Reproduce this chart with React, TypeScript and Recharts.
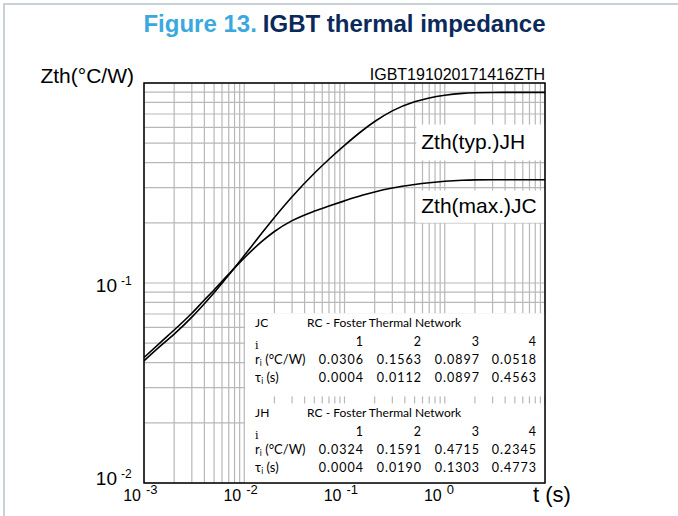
import React from 'react';
import { LineChart, Line, XAxis, YAxis, CartesianGrid, ReferenceArea } from 'recharts';

// time points (s)
const times = [0.001, 0.0015, 0.002, 0.003, 0.004, 0.005, 0.007, 0.01, 0.015, 0.02, 0.03, 0.05, 0.07, 0.1, 0.15, 0.2, 0.3, 0.5, 0.7, 1, 1.5, 2, 3, 5, 10];
// Zth(max.)JC (°C/W)
const zthJC = [0.0424, 0.0511, 0.0582, 0.0706, 0.0822, 0.0923, 0.1108, 0.1335, 0.1614, 0.1809, 0.205, 0.2288, 0.2426, 0.2574, 0.2743, 0.2853, 0.2984, 0.3107, 0.3172, 0.3226, 0.3265, 0.3278, 0.3283, 0.3284, 0.3284];
// Zth(typ.)JH (°C/W)
const zthJH = [0.0408, 0.049, 0.0555, 0.0675, 0.0788, 0.0894, 0.1095, 0.1372, 0.1778, 0.2127, 0.2699, 0.3537, 0.4155, 0.4876, 0.5771, 0.6417, 0.7253, 0.805, 0.8412, 0.8682, 0.8874, 0.8939, 0.8971, 0.8975, 0.8975];

// grid ticks
const xTicks = [0.001, 0.002, 0.003, 0.004, 0.005, 0.006, 0.007, 0.008, 0.009, 0.01, 0.02, 0.03, 0.04, 0.05, 0.06, 0.07, 0.08, 0.09, 0.1, 0.2, 0.3, 0.4, 0.5, 0.6, 0.7, 0.8, 0.9, 1, 2, 3, 4, 5, 6, 7, 8, 9, 10];
const yTicks = [0.01, 0.02, 0.03, 0.04, 0.05, 0.06, 0.07, 0.08, 0.09, 0.1, 0.2, 0.3, 0.4, 0.5, 0.6, 0.7, 0.8, 0.9, 1];
const xDecades = [0.001, 0.01, 0.1, 1];
const xExponents = ['-3', '-2', '-1', '0'];
const yDecades = [0.01, 0.1];
const yExponents = ['-2', '-1'];

// Foster network tables
const colIndex = ['1', '2', '3', '4'];
const jcR = ['0.0306', '0.1563', '0.0897', '0.0518'];
const jcTau = ['0.0004', '0.0112', '0.0897', '0.4563'];
const jhR = ['0.0324', '0.1591', '0.4715', '0.2345'];
const jhTau = ['0.0004', '0.0190', '0.1303', '0.4773'];

const data = times.map((t, i) => ({ t, jc: zthJC[i], jh: zthJH[i] }));

const FONT = '"Liberation Sans", Arial, sans-serif';
const TFONT = 'Lato, "Noto Sans", sans-serif';
const SERIF = '"DejaVu Serif", "Liberation Serif", serif';

const near = (a: number, b: number) => Math.abs(a - b) / b < 1e-6;

function XTick(props: any) {
  const { x, y, payload } = props;
  const i = xDecades.findIndex((d) => near(payload.value, d));
  if (i < 0) return <g />;
  return (
    <g>
      <text x={x - 3} y={y + 18} textAnchor="end" fontSize={16} fontFamily={FONT} fill="#000">10</text>
      <text x={x + 2} y={y + 11} textAnchor="start" fontSize={13} fontFamily={FONT} fill="#000">{xExponents[i]}</text>
    </g>
  );
}

function YTick(props: any) {
  const { x, y, payload } = props;
  const i = yDecades.findIndex((d) => near(payload.value, d));
  if (i < 0) return <g />;
  const base = i === 0 ? y + 2 : y + 9;
  return (
    <g>
      <text x={x - 27} y={base} textAnchor="end" fontSize={19} fontFamily={FONT} fill="#000">10</text>
      <text x={x - 23} y={base - 7} textAnchor="start" fontSize={12} fontFamily={FONT} fill="#000">{yExponents[i]}</text>
    </g>
  );
}

const colRight = [181, 123, 65, 8];

function makeTable(name: string, rVals: string[], tauVals: string[]) {
  return (p: any) => {
    const { x, y, width, height } = p;
    const right = x + width;
    const ts = { fontFamily: TFONT, fontSize: 12, fill: '#000' } as any;
    const ls = { fontFamily: TFONT, fontSize: 13, fill: '#000' } as any;
    const ns = { fontFamily: TFONT, fontSize: 12.5, fill: '#000', letterSpacing: 1 } as any;
    return (
      <g>
        <rect x={x} y={y} width={width} height={height} fill="#fff" />
        <text x={x + 10} y={y + 14} {...ts}>{name}</text>
        <text x={x + 62} y={y + 14} {...ts}>RC - Foster Thermal Network</text>
        <text x={x + 10} y={y + 36} fontFamily={SERIF} fontSize={11} fill="#000">i</text>
        {colIndex.map((c, k) => (
          <text key={'c' + k} x={right - colRight[k]} y={y + 33} textAnchor="end" {...ns}>{c}</text>
        ))}
        <text x={x + 10} y={y + 51} {...ls}>
          r<tspan fontSize={8.5} dy={2}>i</tspan><tspan dy={-2}> (°C/W)</tspan>
        </text>
        {rVals.map((v, k) => (
          <text key={'r' + k} x={right - colRight[k]} y={y + 51} textAnchor="end" {...ns}>{v}</text>
        ))}
        <text x={x + 10} y={y + 69} {...ls}>
          τ<tspan fontSize={8.5} dy={2}>i</tspan><tspan dy={-2}> (s)</tspan>
        </text>
        {tauVals.map((v, k) => (
          <text key={'t' + k} x={right - colRight[k]} y={y + 69} textAnchor="end" {...ns}>{v}</text>
        ))}
      </g>
    );
  };
}

function makeCurveLabel(text: string, dy: number) {
  return (p: any) => {
    const { x, y, width, height } = p;
    return (
      <g>
        <rect x={x} y={y} width={width} height={height} fill="#fff" />
        <text x={x + 5} y={y + dy} fontFamily={FONT} fontSize={21} fill="#000">{text}</text>
      </g>
    );
  };
}

function Frame(p: any) {
  const { x, y, width, height } = p;
  return <rect x={x} y={y} width={width} height={height} fill="none" stroke="#000" strokeWidth={1.5} />;
}

export default function App() {
  return (
    <div style={{ position: 'absolute', left: 0, top: 0, width: 678, height: 516, background: '#fff', overflow: 'hidden' }}>
      <div style={{ position: 'absolute', left: 3, top: 3, width: 720, height: 600, borderTop: '2px solid #c9d1d8', borderLeft: '2px solid #c9d1d8' }} />
      <div style={{ position: 'absolute', left: 0, top: 0 }}>
        <LineChart width={678} height={516} data={data} margin={{ top: 83, right: 133, bottom: 3, left: 84 }}>
          <CartesianGrid stroke="#b8b8b8" strokeWidth={1.2} />
          <XAxis dataKey="t" type="number" scale="log" domain={[0.001, 10]} ticks={xTicks} interval={0} allowDataOverflow
            tickLine={false} axisLine={false} tickSize={0} tickMargin={0} height={30} tick={(p: any) => <XTick {...p} />} />
          <YAxis type="number" scale="log" domain={[0.01, 1]} ticks={yTicks} interval={0} allowDataOverflow
            tickLine={false} axisLine={false} tickSize={0} tickMargin={0} width={60} tick={(p: any) => <YTick {...p} />} />
          <ReferenceArea x1={0.0102} x2={10} y1={0.0271} y2={0.0706} ifOverflow="visible" shape={makeTable('JC', jcR, jcTau)} />
          <ReferenceArea x1={0.0102} x2={10} y1={0.01} y2={0.025} ifOverflow="visible" shape={makeTable('JH', jhR, jhTau)} />
          <ReferenceArea x1={0.52} x2={10} y1={0.41} y2={0.62} ifOverflow="visible" shape={makeCurveLabel('Zth(typ.)JH', 24)} />
          <ReferenceArea x1={0.52} x2={10} y1={0.2} y2={0.29} ifOverflow="visible" shape={makeCurveLabel('Zth(max.)JC', 22)} />
          <Line dataKey="jc" type="monotone" stroke="#000" strokeWidth={1.6} dot={false} isAnimationActive={false} />
          <Line dataKey="jh" type="monotone" stroke="#000" strokeWidth={1.6} dot={false} isAnimationActive={false} />
          <ReferenceArea x1={0.001} x2={10} y1={0.01} y2={1} ifOverflow="visible" shape={Frame} />
        </LineChart>
      </div>
      <svg width={678} height={516} style={{ position: 'absolute', left: 0, top: 0, pointerEvents: 'none' }}>
        <text x={344.5} y={32} textAnchor="middle" fontSize={24} fontWeight="bold" fontFamily={FONT}>
          <tspan fill="#3aa9dd">Figure 13.</tspan>
          <tspan fill="#0b2a5b" dx={6}>IGBT thermal impedance</tspan>
        </text>
        <text x={134} y={83} textAnchor="end" fontSize={21} fontFamily={FONT} fill="#000">Zth(°C/W)</text>
        <text x={545} y={80} textAnchor="end" fontSize={16} fontFamily={FONT} fill="#000">IGBT191020171416ZTH</text>
        <text x={533} y={502} textAnchor="start" fontSize={22} fontFamily={FONT} fill="#000">t (s)</text>
      </svg>
    </div>
  );
}
